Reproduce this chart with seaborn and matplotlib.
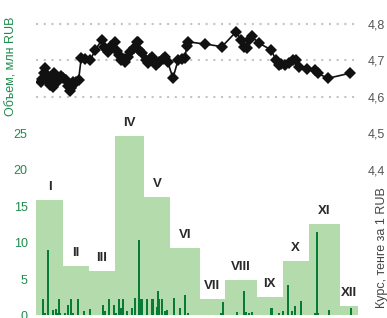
import numpy as np
import pandas as pd
import seaborn as sns
import matplotlib.pyplot as plt
from matplotlib.ticker import FuncFormatter, FixedLocator

# ------------------------------------------------------------
# data (x = trading day of the year)
# ------------------------------------------------------------
months = ["I", "II", "III", "IV", "V", "VI", "VII", "VIII", "IX", "X", "XI", "XII"]
month_days = [21, 20, 20, 23, 20, 23, 19, 25, 20, 20, 24, 14]
month_volume = [15.8, 6.85, 6.07, 24.7, 16.3, 9.2, 2.2, 4.9, 2.5, 7.5, 12.5, 1.3]

day_idx = [5.2, 6.7, 9.5, 13.4, 15.7, 16.5, 17.8, 18.8, 22.2, 24.5, 26.9, 28.9,
           32.7, 36.9, 41.8, 51.6, 53.2, 56.3, 60.1, 61.9, 64.0, 65.6, 67.3,
           70.7, 74.1, 76.6, 79.7, 81.3, 82.3, 85.7, 89.6, 90.8, 93.4, 94.2,
           95.4, 97.3, 99.6, 101.2, 106.8, 111.2, 115.3, 117.9, 143.0, 144.5,
           155.3, 161.0, 162.5, 164.9, 166.9, 181.9, 182.9, 188.3, 191.0,
           194.8, 197.9, 200.2, 204.9, 216.0, 217.3, 218.3, 226.8, 243.8]
day_volume = [2.3, 0.3, 9.0, 0.7, 0.9, 0.4, 2.3, 0.3, 0.3, 1.5, 2.3, 0.3,
              2.3, 0.6, 0.9, 1.5, 0.6, 2.2, 1.4, 0.3, 2.3, 1.0, 2.3,
              0.6, 1.0, 2.4, 10.3, 2.3, 2.3, 2.3, 2.2, 2.3, 1.1, 3.4,
              2.3, 2.2, 0.6, 0.7, 2.4, 1.0, 2.8, 0.3, 0.3, 1.9,
              0.5, 3.4, 0.5, 0.3, 0.5, 1.0, 1.0, 0.3, 0.6,
              4.2, 0.6, 1.3, 2.0, 0.3, 11.4, 0.3, 0.7, 1.0]

rate_day = [4, 5, 6, 7, 8, 9, 10, 11, 12, 13, 14, 15, 16, 17, 19, 21, 23, 25,
            26, 27, 29, 31, 33, 35, 38, 42, 46, 51, 53, 55, 56, 58, 61, 63, 64,
            66, 68, 69, 71, 73, 76, 78, 79, 80, 82, 85, 87, 88, 90, 91, 93, 95,
            98, 100, 102, 106, 110, 113, 115, 117, 118, 131, 144, 155, 159,
            161, 163, 165, 167, 173, 182, 186, 188, 190, 193, 196, 199, 201,
            204, 210, 216, 218, 226, 243]
rate = [4.642, 4.650, 4.665, 4.679, 4.660, 4.656, 4.640, 4.633, 4.645, 4.628,
        4.665, 4.660, 4.642, 4.650, 4.656, 4.652, 4.647, 4.630, 4.615, 4.625,
        4.642, 4.640, 4.647, 4.706, 4.703, 4.701, 4.730, 4.756, 4.738, 4.728,
        4.724, 4.740, 4.751, 4.725, 4.715, 4.701, 4.705, 4.697, 4.710, 4.724,
        4.735, 4.751, 4.751, 4.729, 4.720, 4.700, 4.692, 4.705, 4.710, 4.700,
        4.688, 4.695, 4.705, 4.710, 4.697, 4.651, 4.701, 4.703, 4.706, 4.740,
        4.751, 4.745, 4.738, 4.779, 4.755, 4.738, 4.733, 4.755, 4.766, 4.747,
        4.729, 4.700, 4.688, 4.690, 4.688, 4.692, 4.700, 4.701, 4.683, 4.676,
        4.673, 4.665, 4.651, 4.665]

left_ticks = [0, 5, 10, 15, 20, 25]
right_ticks = [4.4, 4.5, 4.6, 4.7, 4.8]

# ------------------------------------------------------------
# derived tables
# ------------------------------------------------------------
edges = [0] + list(np.cumsum(month_days).astype(float))
mdf = pd.DataFrame({"month": months,
                    "mid": [(a + b) / 2 for a, b in zip(edges[:-1], edges[1:])],
                    "volume": month_volume})

sns.set_style("white")
plt.rcParams["font.family"] = ["Liberation Sans", "DejaVu Sans"]

GREEN_TXT = "#1e8c4c"
LIGHT = "#b3dbab"
DARK = "#087a38"

fig = plt.figure(figsize=(3.87, 3.18), dpi=100)
ax = fig.add_axes([0.093, 0.008, 0.831, 0.992])

# monthly volumes -> variable width bars
sns.histplot(data=mdf, x="mid", weights="volume", bins=edges, ax=ax,
             color=LIGHT, alpha=1, edgecolor="none", linewidth=0, zorder=2)
# daily volumes
ax.bar(day_idx, day_volume, width=1.6, color=DARK, edgecolor="none",
       linewidth=0, zorder=3)

for _, r in mdf.iterrows():
    ax.annotate(r["month"], (r["mid"], r["volume"]), xytext=(0, 5),
                textcoords="offset points", ha="center", va="bottom",
                fontsize=9.5, fontweight="bold", color="#2a2a2a", zorder=4)

ax.set_xlim(0, edges[-1])
ax.set_ylim(0, 43.3)
ax.yaxis.set_major_locator(FixedLocator(left_ticks))
ax.set_yticks(np.arange(5, 45, 5), minor=True)
ax.grid(False)
ax.grid(True, which="minor", axis="y", color="#c4c4c4",
        linestyle=(0, (1, 2.7)), linewidth=1.5)
ax.set_axisbelow(True)
ax.tick_params(axis="y", which="both", length=0, labelsize=9,
               labelcolor=GREEN_TXT, pad=6)
ax.set_xticks([])
ax.set_xlabel("")
ax.set_ylabel("Объем, млн RUB", color=GREEN_TXT, fontsize=9)
ax.yaxis.set_label_coords(-0.056, 0.79)
for s in ax.spines.values():
    s.set_visible(False)

# exchange rate
ax2 = ax.twinx()
rdf = pd.DataFrame({"day": rate_day, "rate": rate})
sns.lineplot(data=rdf, x="day", y="rate", ax=ax2, color="#111111",
             linewidth=1.2, marker="D", markersize=6.5, markeredgewidth=0,
             zorder=5)
ax2.set_ylim(4.0, 4.0 + 43.3 * 0.02)
ax2.set_xlim(0, edges[-1])
ax2.yaxis.set_major_locator(FixedLocator(right_ticks))
ax2.yaxis.set_major_formatter(FuncFormatter(lambda v, p: f"{v:.1f}".replace(".", ",")))
ax2.tick_params(axis="y", length=0, labelsize=9, labelcolor="#555555", pad=7)
ax2.set_ylabel("Курс, тенге за 1 RUB", color="#444444", fontsize=9)
ax2.yaxis.set_label_coords(1.057, 0.215)
ax2.set_xlabel("")
for s in ax2.spines.values():
    s.set_visible(False)

fig.savefig("out.png", dpi=100)
